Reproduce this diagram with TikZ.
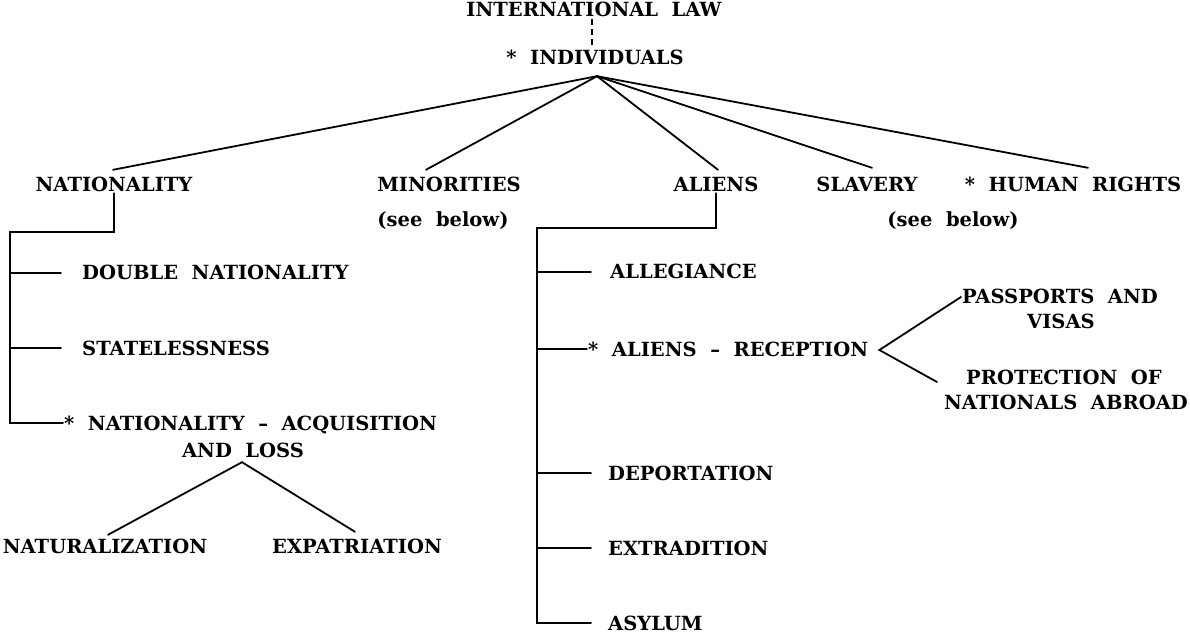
\documentclass[tikz,border=0pt]{standalone}
\usepackage{fontspec}
\setmainfont{DejaVu Serif}[WordSpace=2]
\usetikzlibrary{calc}
\tikzset{
  lbl/.style={font=\bfseries\fontsize{19.5bp}{21bp}\selectfont, inner sep=1bp,
    text height=14bp, text depth=0bp},
  link/.style={line width=1.8bp, line cap=round, line join=miter},
  dashlink/.style={line width=1.4bp, dash pattern=on 6bp off 4bp}
}
\begin{document}
\begin{tikzpicture}[x=1bp,y=-1bp]
\useasboundingbox (0,0) rectangle (1190,637);

% root and first level
\node[lbl] (intl) at (594,10) {INTERNATIONAL LAW};
\node[lbl] (indiv) at (595,58) {* INDIVIDUALS};
\draw[dashlink] ($(intl.south)+(-2,1)$) -- ($(intl.south |- indiv.north)+(-2,-1)$);
\coordinate (hub) at ($(indiv.south)+(2,10)$);

\node[lbl] (nat) at (114,185) {NATIONALITY};
\node[lbl] (min) at (449,185) {MINORITIES};
\node[lbl] (ali) at (716,185) {ALIENS};
\node[lbl] (sla) at (867,185) {SLAVERY};
\node[lbl] (hum) at (1073,185) {* HUMAN RIGHTS};
\node[lbl] (seeA) at (443,220) {(see below)};
\node[lbl] (seeB) at (953,220) {(see below)};

\draw[link] (hub) -- ($(nat.north)+(-1,-7)$);
\draw[link] (hub) -- ($(min.north)+(-23,-7)$);
\draw[link] (hub) -- ($(ali.north)+(2,-7)$);
\draw[link] (hub) -- ($(sla.north)+(5,-9)$);
\draw[link] (hub) -- ($(hum.north)+(15,-9)$);

% nationality branch
\coordinate (natj) at (10,232);
\node[lbl,anchor=west] (dbl) at (81,273) {DOUBLE NATIONALITY};
\node[lbl,anchor=west] (stl) at (81,348) {STATELESSNESS};
\node[lbl,anchor=west] (acqA) at (63,423) {* NATIONALITY -- ACQUISITION};
\node[lbl] (acqB) at (243,450) {AND LOSS};
\draw[link] (nat.south) |- (natj) |- (acqA.west);
\draw[link] (natj |- dbl.west) -- ($(dbl.west)+(-20,0)$);
\draw[link] (natj |- stl.west) -- ($(stl.west)+(-20,0)$);

\coordinate (acqhub) at ($(acqB.south)+(-1,4)$);
\node[lbl] (natz) at (105,546) {NATURALIZATION};
\node[lbl] (expa) at (357,546) {EXPATRIATION};
\draw[link] ($(natz.north)+(3,-3)$) -- (acqhub) -- ($(expa.north)+(-2,-6)$);

% aliens branch
\coordinate (alij) at (537,228);
\node[lbl,anchor=west] (alg) at (609,272) {ALLEGIANCE};
\node[lbl,anchor=west] (rec) at (587,349) {* ALIENS -- RECEPTION};
\node[lbl,anchor=west] (dep) at (607,473) {DEPORTATION};
\node[lbl,anchor=west] (ext) at (607,548) {EXTRADITION};
\node[lbl,anchor=west] (asy) at (607,623) {ASYLUM};
\draw[link] (ali.south) |- (alij) |- ($(asy.west)+(-16,0)$);
\draw[link] (alij |- alg.west) -- ($(alg.west)+(-18,0)$);
\draw[link] (alij |- rec.west) -- (rec.west);
\draw[link] (alij |- dep.west) -- ($(dep.west)+(-16,0)$);
\draw[link] (alij |- ext.west) -- ($(ext.west)+(-16,0)$);

% reception sub-branch
\node[lbl] (pasA) at (1060,297) {PASSPORTS AND};
\node[lbl] (pasB) at (1061,322) {VISAS};
\node[lbl] (proA) at (1064,377) {PROTECTION OF};
\node[lbl] (proB) at (1066,402) {NATIONALS ABROAD};
\coordinate (rechub) at ($(rec.east)+(10,1)$);
\draw[link] (pasA.west) -- (rechub) -- ($(proA.west)+(-28,5)$);
\end{tikzpicture}
\end{document}
